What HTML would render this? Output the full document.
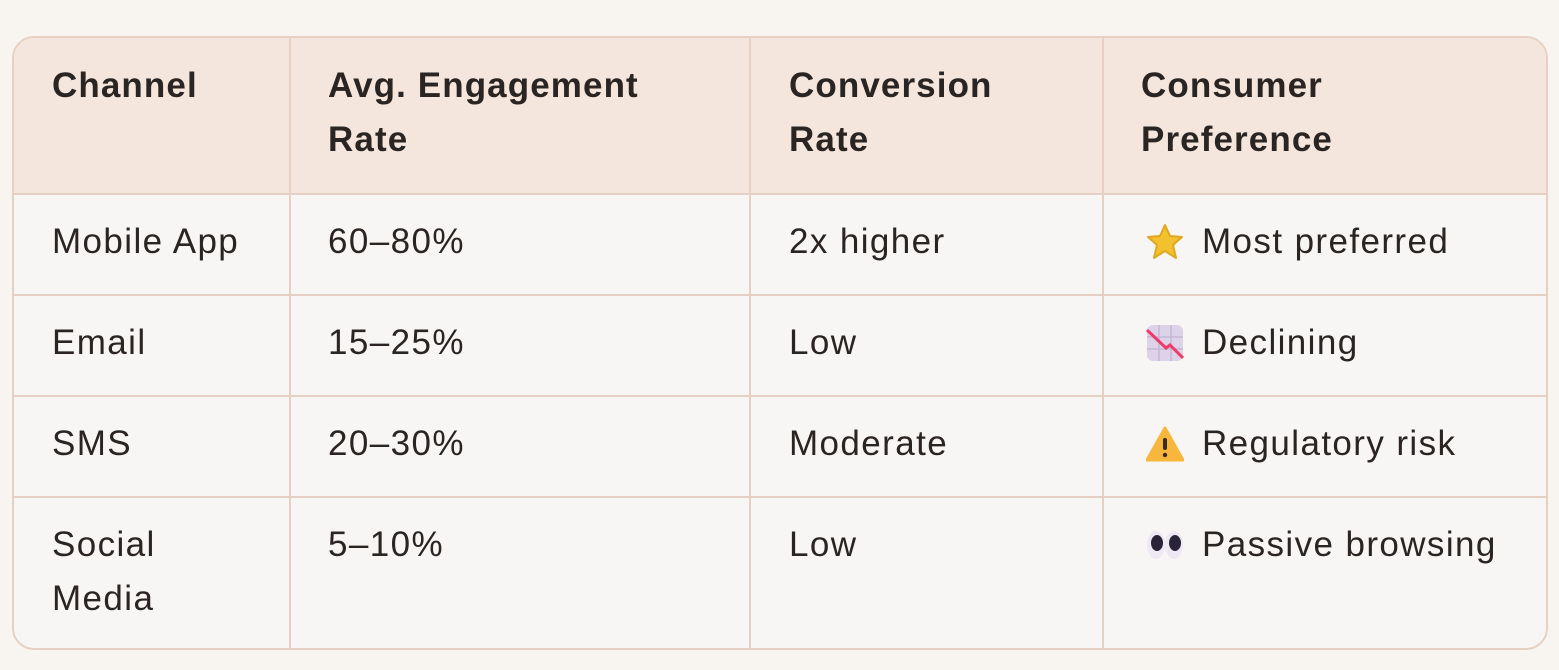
<!DOCTYPE html><html><head><style>
body{margin:0;width:1559px;height:670px;background:#f8f4f0;font-family:"Liberation Sans",sans-serif;color:#2a2522;position:relative;overflow:hidden}
.t{position:absolute;left:12px;top:36px;width:1532px;height:610px;border:2px solid #e5d0c3;border-radius:22px;background:#f8f6f4;overflow:hidden}
.h{position:absolute;left:0;top:0;width:100%;height:155px;background:#f5e6dd;border-bottom:2px solid #e5d0c3}
.v{position:absolute;top:0;bottom:0;width:2px;background:#e5d0c3}
.r{position:absolute;left:0;width:100%;height:2px;background:#e5d0c3}
.x{position:absolute;font-size:35px;line-height:54px;white-space:nowrap;letter-spacing:1.4px}
.b{font-weight:bold;letter-spacing:1.1px}
svg{position:absolute}
</style></head><body>
<div class="t">
<div class="h"></div>
<div class="v" style="left:275px"></div><div class="v" style="left:735px"></div><div class="v" style="left:1088px"></div>
<div class="r" style="top:256px"></div><div class="r" style="top:357px"></div><div class="r" style="top:458px"></div>
</div>
<div class="x b" style="left:52px;top:59px">Channel</div>
<div class="x b" style="left:328px;top:59px">Avg. Engagement<br>Rate</div>
<div class="x b" style="left:789px;top:59px">Conversion<br>Rate</div>
<div class="x b" style="left:1141px;top:59px">Consumer<br>Preference</div>
<div class="x" style="left:52px;top:215px">Mobile App</div>
<div class="x" style="left:328px;top:215px">60–80%</div>
<div class="x" style="left:789px;top:215px">2x higher</div>
<div class="x" style="left:1202px;top:215px">Most preferred</div>
<div class="x" style="left:52px;top:316px">Email</div>
<div class="x" style="left:328px;top:316px">15–25%</div>
<div class="x" style="left:789px;top:316px">Low</div>
<div class="x" style="left:1202px;top:316px">Declining</div>
<div class="x" style="left:52px;top:417px">SMS</div>
<div class="x" style="left:328px;top:417px">20–30%</div>
<div class="x" style="left:789px;top:417px">Moderate</div>
<div class="x" style="left:1202px;top:417px">Regulatory risk</div>
<div class="x" style="left:52px;top:518px">Social<br>Media</div>
<div class="x" style="left:328px;top:518px">5–10%</div>
<div class="x" style="left:789px;top:518px">Low</div>
<div class="x" style="left:1202px;top:518px">Passive browsing</div>
<svg style="left:1146px;top:223px" width="38" height="38" viewBox="0 0 38 38"><polygon points="19,2 24,13 36,14 27,22 30,35 19,28 8,35 11,22 2,14 14,13" fill="#f2c12e" stroke="#e0a820" stroke-width="2" stroke-linejoin="round"/></svg>
<svg style="left:1146px;top:324px" width="38" height="38" viewBox="0 0 38 38"><rect x="1" y="1" width="36" height="36" rx="6" fill="#ddd3e8"/><path d="M13 1V37M25 1V37M1 13H37M1 25H37" stroke="#c5b8d4" stroke-width="1.5"/><polyline points="1,6 20,24 24,21 37,34" fill="none" stroke="#ee3b6a" stroke-width="3"/></svg>
<svg style="left:1146px;top:425px" width="38" height="38" viewBox="0 0 38 38"><polygon points="19,3 37,35 1,35" fill="#f6b73c" stroke="#f6b73c" stroke-width="3" stroke-linejoin="round"/><rect x="17" y="13" width="4" height="12" rx="2" fill="#3a2a20"/><circle cx="19" cy="30" r="2.2" fill="#3a2a20"/></svg>
<svg style="left:1146px;top:528px" width="38" height="34" viewBox="0 0 38 34"><ellipse cx="10" cy="17" rx="9" ry="14" fill="#eee8f2"/><ellipse cx="28" cy="17" rx="9" ry="14" fill="#eee8f2"/><ellipse cx="11" cy="15" rx="6" ry="8" fill="#2a2438"/><ellipse cx="29" cy="15" rx="6" ry="8" fill="#2a2438"/></svg>
</body></html>
